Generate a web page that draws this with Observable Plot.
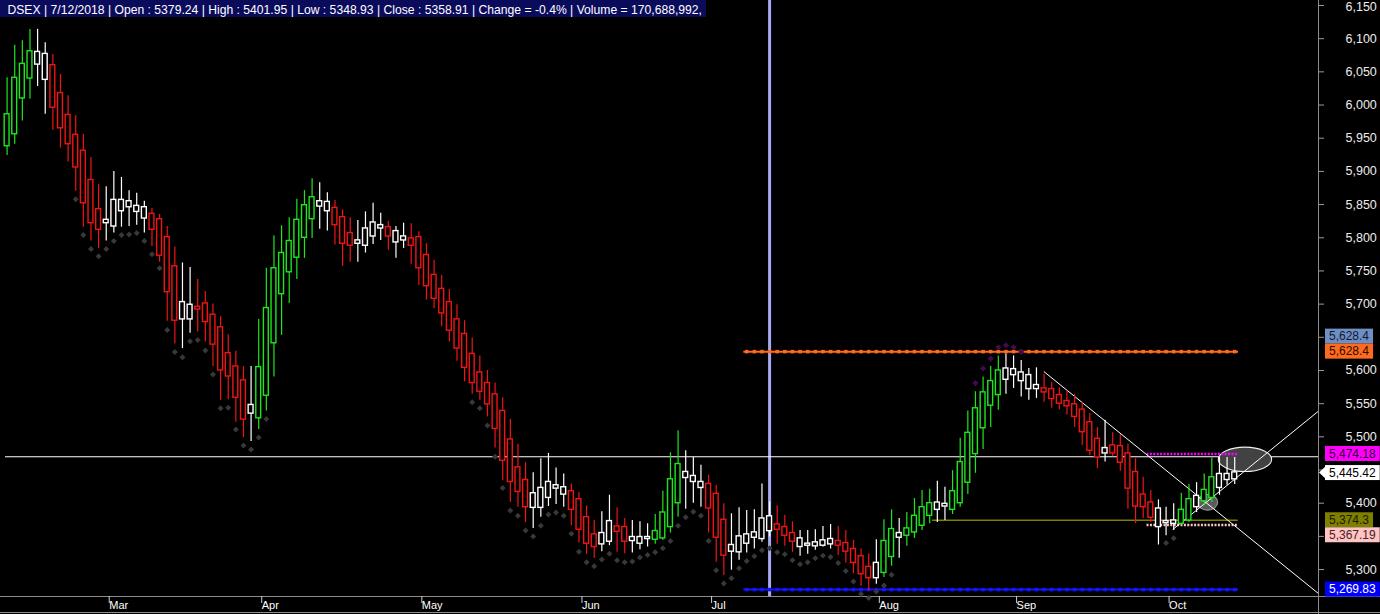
<!DOCTYPE html>
<html><head><meta charset="utf-8">
<script src="https://cdn.jsdelivr.net/npm/d3@7"></script>
<script src="https://cdn.jsdelivr.net/npm/@observablehq/plot@0.6"></script>
<style>
html,body{margin:0;padding:0;background:#000;}
#wrap{position:relative;width:1380px;height:614px;overflow:hidden;background:#000;}
#hdr{position:absolute;left:0;top:0;height:17px;line-height:17px;background:#0b0b5c;color:#fff;overflow:hidden;}
#hdr span{display:inline-block;transform-origin:0 50%;font-family:"Liberation Sans",Arial,sans-serif;font-size:13px;white-space:nowrap;padding-left:8px;}
</style></head><body>
<div id="wrap"><div id="chart"></div><div id="hdr"><span id="hdrText"></span></div></div>
<script>
// ---------- data (DSEX daily) ----------
const highs = [6041,6090,6097,6114,6114,6094,6076,6046,6014,5984,
5956,5921,5880,5877,5900,5891,5871,5867,5855,5844,
5835,5817,5786,5762,5755,5737,5719,5700,5681,5654,
5629,5606,5606,5677,5754,5803,5818,5830,5858,5871,
5889,5883,5868,5856,5842,5830,5826,5839,5852,5837,
5825,5817,5822,5821,5809,5791,5766,5743,5722,5699,
5675,5649,5622,5600,5581,5559,5526,5489,5461,5446,
5467,5475,5453,5444,5429,5416,5396,5374,5387,5412,
5393,5377,5374,5372,5369,5383,5418,5476,5509,5479,
5469,5457,5442,5427,5399,5384,5393,5389,5390,5429,
5401.95,5396,5382,5372,5359,5359,5360,5365,5368,5365,
5359,5344,5331,5324,5345,5375,5390,5377,5386,5407,
5419,5421,5433,5424,5449,5498,5539,5568,5590,5606,
5622,5625,5622,5615,5603,5604,5594,5582,5574,5569,
5564,5552,5535,5514,5525,5506,5503,5489,5467,5439,
5419,5405,5394,5399,5415,5428,5431,5444,5468,5469,
5469,5469];
const lows = [5924,5941,5976,6009,6028,5986,5962,5935,5914,5870,
5816,5795,5784,5795,5807,5816,5817,5819,5807,5787,
5763,5674,5640,5633,5656,5658,5643,5606,5555,5556,
5522,5499,5493,5511,5539,5590,5653,5701,5737,5769,
5799,5813,5810,5789,5757,5763,5763,5777,5790,5796,
5781,5769,5784,5760,5728,5706,5693,5666,5643,5614,
5583,5564,5555,5530,5483,5434,5401,5394,5371,5362,
5379,5395,5398,5394,5366,5340,5323,5317,5327,5336,
5326,5324,5325,5330,5334,5338,5344,5355,5379,5391,
5400,5394,5355,5311,5291,5299,5314,5325,5331,5341,
5348.93,5338,5335,5326,5320,5323,5329,5334,5331,5321,
5310,5294,5275,5268,5278,5288,5305,5317,5335,5347,
5359,5369,5371,5374,5383,5394,5413,5445,5481,5514,
5540,5564,5573,5560,5555,5558,5552,5543,5541,5533,
5514,5487,5472,5452,5462,5470,5448,5391,5369,5377,
5371,5337,5351,5359,5367,5371,5386,5396,5401,5412,
5427,5428];
const opens = [5939,5957,6011,6041,6079,6076,6059,6017,5984,5954,
5930,5886,5842,5826,5856,5856,5854,5847,5845,5835,
5827,5800,5756,5702,5698,5695,5700,5683,5664,5625,
5605,5584,5547,5529,5563,5642,5716,5749,5771,5801,
5829,5854,5853,5844,5830,5806,5795,5813,5822,5818,
5815,5809,5801,5798,5800,5773,5743,5722,5702,5676,
5654,5624,5596,5580,5563,5538,5495,5453,5434,5414,
5422,5431,5426,5423,5417,5405,5378,5352,5354,5372,
5364,5363,5348,5348,5348,5346,5348,5365,5401,5446,
5440,5431,5428,5413,5374,5336,5349,5352,5355,5376,
5379.24,5367,5363,5354,5346,5338,5340,5343,5345,5342,
5339,5330,5319,5303,5309,5296,5320,5354,5352,5357,
5367,5382,5400,5398,5391,5401,5432,5475,5514,5548,
5564,5602,5601,5596,5592,5577,5572,5571,5562,5553,
5548,5540,5521,5496,5482,5486,5485,5474,5446,5412,
5400,5391,5372,5373,5370,5375,5410,5404,5409,5443,
5443,5437];
const closes = [5985,6040,6061,6080,6062,6039,5997,5966,5942,5907,
5853,5823,5813,5823,5818,5841,5847,5840,5830,5813,
5774,5719,5676,5678,5678,5693,5674,5640,5601,5592,
5560,5527,5536,5604,5693,5753,5776,5794,5826,5848,
5860,5848,5841,5820,5792,5789,5792,5789,5803,5815,
5803,5794,5797,5789,5755,5728,5709,5687,5661,5634,
5605,5582,5569,5550,5513,5465,5433,5418,5395,5394,
5394,5409,5423,5414,5391,5361,5340,5335,5339,5343,
5358,5343,5344,5340,5347,5357,5385,5435,5458,5439,
5433,5424,5393,5349,5322,5328,5327,5340,5349,5347,
5358.91,5361,5352,5343,5335,5337,5336,5337,5339,5337,
5328,5311,5294,5288,5288,5342,5360,5349,5361,5380,
5393,5399,5391,5396,5417,5461,5505,5542,5566,5583,
5599,5587,5594,5585,5573,5573,5568,5558,5551,5547,
5531,5508,5480,5470,5476,5476,5462,5423,5396,5395,
5379,5365,5371,5370,5389,5405,5395,5419,5438,5424,
5436,5445.42];
// bar colouring: g = up trend, r = down trend, w = neutral
const tones = ("ggggwwrrrrrrrwwwwwwrrrrwwrrrrrrrwggggggggwwrrrwwwwrwwrrrrrrrrrrrrrrrr" +
  "wwwwwrrrrwwrrwwwggggwwwrrrwwwwwwrrrwwwwwrrrrrwggwggggwwgggggggwwwwwrrrrrrrrwrrrrrrwwwggwggwww").split("");

// trailing-stop diamonds below price
const stopIdx = [9,10,11,12,13,14,15,16,17,18,19,20,21,22,23,24,25,26,27,28,29,30,31,32,33,34,
61,62,63,64,65,66,67,68,69,70,71,72,73,74,75,76,77,78,79,80,81,82,83,84,85,86,87,88,89,90,
91,92,93,94,95,96,97,98,99,100,101,102,103,104,105,106,107,108,109,110,111,112,113,114,115,116,152,153];
const stopVal = [5858,5804,5783,5772,5783,5795,5804,5805,5807,5795,5775,5754,5661,5628,5620,5644,5646,5630,5594,5543,5544,5511,5487,5481,5499,5527,
5552,5543,5517,5470,5423,5389,5381,5359,5350,5366,5383,5386,5381,5354,5327,5311,5305,5315,5324,5314,5311,5312,5318,5322,5326,5332,5343,5366,5379,5387,
5381,5343,5299,5279,5287,5302,5313,5320,5329,5332,5326,5323,5314,5308,5311,5317,5321,5319,5310,5298,5282,5263,5257,5267,5276,5292,5340,5347];
// dots above the September peak
const peakIdx = [127,128,129,130,131,132,133];
const peakVal = [5581,5603,5618,5635,5638,5635,5628];

const monthLabels = ["Mar","Apr","May","Jun","Jul","Aug","Sep","Oct"];
const monthIdx = [13,33,54,75,92,114,132,152];
const yTicks = [5300,5350,5400,5450,5500,5550,5600,5650,5700,5750,5800,5850,5900,5950,6000,6050,6100,6150];

const cursorIdx = 100;
const cursorInfo = {name:"DSEX", date:"7/12/2018", change:"-0.4%", volume:"170,688,992"};

const hLineVal = 5470, hLineFrom = -0.21;
const resistVal = 5628.4, supportVal = 5269.83, levelFrom = 96.62, levelTo = 161.5, levelDotFrom = 97;
const magentaVal = 5474.18, pinkVal = 5367.19, shortFrom = 149.5, shortTo = 161.35;
const oliveVal = 5374.3, oliveFrom = 121.36, oliveTo = 161.46;
const trendFromIdx = [135.96, 152.88], trendFromVal = [5598.5, 5360.4];
const trendToIdx = [172.25, 172.25], trendToVal = [5261.4, 5541.2];
const ellIdx = [162.41, 157.52], ellVal = [5465.4, 5400.6], ellHalfBars = [3.5, 1.31], ellHalfPts = [18.4, 11.8];

const tagValues = [5628.4, 5628.4, 5474.18, 5445.42, 5374.3, 5367.19, 5269.83];
const tagFill = ["#6f8fc4", "#ff6a1e", "#ff00ff", "#ffffff", "#7f7f00", "#ffc4c4", "#0000ff"];
const tagInk = ["#0d1a33", "#2a0c00", "#2e002e", "#000000", "#1a1a00", "#4a2020", "#ffffff"];
const tagOrder = [1, 2, 3, 4, 6, 0, 5];
const tagDodge = ["up", "up", "up", "up", "up", "down", "up"];
const tagPointer = [false, false, false, true, false, false, false];

// ---------- build ----------
const toneColor = {g: "#1ee61e", r: "#f01414", w: "#ffffff"};
const bars = highs.map((h, i) => ({i, high: h, low: lows[i], open: opens[i], close: closes[i], tone: tones[i]}));
const stops = stopIdx.map((d, k) => ({i: d, v: stopVal[k]}));
const peaks = peakIdx.map((d, k) => ({i: d, v: peakVal[k]}));
const trends = trendFromIdx.map((d, k) => ({x1: d, y1: trendFromVal[k], x2: trendToIdx[k], y2: trendToVal[k]}));
const levelBars = bars.filter(d => d.i >= levelDotFrom);
const fmt = d3.format(",");
const monthMap = new Map(monthIdx.map((d, k) => [d, monthLabels[k]]));

const xDomain = [-0.8656, 171.99];
const yDomain = [5259.4, 6157.53];
const NS = "http://www.w3.org/2000/svg";
const el = (tag, attrs) => { const e = document.createElementNS(NS, tag); for (const k in attrs) e.setAttribute(k, attrs[k]); return e; };

function frameMark(index, scales, values, dims) {
  const g = el("g", {});
  const xr = dims.width - dims.marginRight + 0.5, yb = dims.height - dims.marginBottom + 0.5;
  g.append(el("line", {x1: xr, y1: 0, x2: xr, y2: dims.height, stroke: "#8c8c8c"}));
  g.append(el("line", {x1: 0, y1: yb, x2: dims.width, y2: yb, stroke: "#8c8c8c"}));
  g.append(el("line", {x1: 0, y1: dims.height - 1.5, x2: dims.width, y2: dims.height - 1.5, stroke: "#8c8c8c"}));
  return g;
}
function ellipseMark(index, scales) {
  const g = el("g", {});
  ellIdx.forEach((d, k) => {
    const cx = scales.x(d), cy = scales.y(ellVal[k]);
    const rx = Math.abs(scales.x(d + ellHalfBars[k]) - cx), ry = Math.abs(scales.y(ellVal[k] + ellHalfPts[k]) - cy);
    g.append(el("ellipse", {cx, cy, rx, ry, fill: k === 0 ? "#424242" : "#5a5a5a", stroke: k === 0 ? "#f0f0f0" : "#9a9a9a", "stroke-width": 1.1}));
  });
  return g;
}
function tagMark(index, scales, values, dims) {
  const g = el("g", {"text-anchor": "start"});
  const xr = dims.width - dims.marginRight;
  const H = 15, placed = [], pos = [];
  tagOrder.forEach(k => {
    let y = scales.y(tagValues[k]);
    for (let pass = 0; pass < 3; pass++)
      for (const p of placed) if (Math.abs(p - y) < H) y = tagDodge[k] === "up" ? p - H : p + H;
    pos[k] = y; placed.push(y);
  });
  tagValues.forEach((v, k) => {
    const t = el("g", {class: "pricetag"});
    const y = pos[k];
    if (tagPointer[k]) t.append(el("path", {d: `M${xr + 1},${y}L${xr + 9},${y - H / 2}L${xr + 9},${y + H / 2}Z`, fill: tagFill[k]}));
    t.append(el("rect", {x: xr + 7, y: y - H / 2, width: 52, height: H, fill: tagFill[k]}));
    const tx = el("text", {x: xr + 11, y, dy: "0.36em", fill: tagInk[k], "text-anchor": "start", "font-size": 12, "font-family": "'Liberation Sans',Arial,sans-serif"});
    tx.textContent = fmt(v);
    t.append(tx);
    g.append(t);
  });
  return g;
}

const chart = Plot.plot({
  width: 1380, height: 614,
  marginLeft: 0, marginRight: 62, marginTop: 0, marginBottom: 18,
  style: {background: "#000", color: "#fff", fontFamily: "'Liberation Sans',Arial,sans-serif", overflow: "visible"},
  x: {type: "linear", domain: xDomain},
  y: {type: "linear", domain: yDomain},
  color: {type: "identity"},
  marks: [
    frameMark,
    Plot.ruleX([cursorIdx], {stroke: "#a9a9f2", strokeWidth: 3}),
    Plot.ruleY([hLineVal], {x1: hLineFrom, x2: xDomain[1], stroke: "#ffffff", strokeWidth: 1.2}),
    ellipseMark,
    Plot.ruleY([resistVal], {x1: levelFrom, x2: levelTo, stroke: "#ff6a1e", strokeWidth: 2}),
    Plot.dot(levelBars, {x: "i", y: () => resistVal, symbol: "square", r: 2, fill: "#ff6a1e"}),
    Plot.ruleY([supportVal], {x1: levelFrom, x2: levelTo, stroke: "#1414ff", strokeWidth: 2}),
    Plot.dot(levelBars, {x: "i", y: () => supportVal, symbol: "square", r: 2, fill: "#1414ff"}),
    Plot.ruleY([oliveVal], {x1: oliveFrom, x2: oliveTo, stroke: "#7f7f00", strokeWidth: 1.5}),
    Plot.ruleY([magentaVal], {x1: shortFrom, x2: shortTo, stroke: "#ff00ff", strokeWidth: 2.4, strokeDasharray: "2,1.4"}),
    Plot.ruleY([pinkVal], {x1: shortFrom, x2: shortTo, stroke: "#ffc4c4", strokeWidth: 2.4, strokeDasharray: "2,1.4"}),
    Plot.link(trends, {x1: "x1", y1: "y1", x2: "x2", y2: "y2", stroke: "#ffffff", strokeWidth: 1, clip: true}),
    Plot.ruleX(bars, {x: "i", y1: "low", y2: "high", stroke: d => toneColor[d.tone], strokeWidth: 1.2}),
    Plot.rect(bars, {x1: d => d.i - 0.32, x2: d => d.i + 0.32, y1: d => Math.min(d.open, d.close), y2: d => Math.max(d.open, d.close),
      fill: "#000", stroke: d => toneColor[d.tone], strokeWidth: 1.4, insetTop: -0.7, insetBottom: -0.7}),
    Plot.dot(stops, {x: "i", y: "v", symbol: "diamond2", r: 2.7, fill: "#383838"}),
    Plot.dot(peaks, {x: "i", y: "v", symbol: "diamond2", r: 2.8, fill: "#420a50"}),
    Plot.axisY(yTicks, {anchor: "right", tickFormat: fmt, tickSize: 5, tickPadding: 22, fontSize: 12.5, fill: "#ececec", stroke: "#9a9a9a"}),
    Plot.axisX(monthIdx, {anchor: "bottom", tickFormat: d => monthMap.get(d), tickSize: 7, tickPadding: 1.5, textAnchor: "start", lineAnchor: "middle",
      dx: 3, fontSize: 11, fill: "#ffffff", stroke: "#d0d0d0"}),
    tagMark
  ]
});
document.getElementById("chart").append(chart);
const tagBoxes = [];
chart.querySelectorAll(".pricetag").forEach(t => {
  const tx = t.querySelector("text"), r = t.querySelector("rect");
  r.setAttribute("width", tx.getComputedTextLength() + 8);
  tagBoxes.push(r.getBoundingClientRect());
});
// price tags sit on top of the axis labels (as in the original): hide the labels they cover; keep the top label inside the picture
const svgBox = chart.getBoundingClientRect();
chart.querySelectorAll("text").forEach(t => {
  if (t.closest(".pricetag")) return;
  const bb = t.getBoundingClientRect();
  if (bb.left > 1300 && tagBoxes.some(r => bb.top < r.bottom - 2 && bb.bottom > r.top + 2)) t.remove();
  else if (bb.top - svgBox.top < 0.5) {
    const prev = t.getAttribute("transform") || "";
    t.setAttribute("transform", `${prev} translate(0,${(0.5 - (bb.top - svgBox.top)).toFixed(1)})`.trim());
  }
});
const b = bars[cursorIdx];
const hdrText = document.getElementById("hdrText");
hdrText.textContent =
  `${cursorInfo.name} | ${cursorInfo.date} | Open : ${b.open} | High : ${b.high} | Low : ${b.low} | Close : ${b.close} | Change = ${cursorInfo.change} | Volume = ${cursorInfo.volume},`;
// fit the header to the narrow font width of the original (text ends near x = 702)
const natural = hdrText.getBoundingClientRect().width;
const sx = 702 / natural;
hdrText.style.transform = `scaleX(${sx})`;
document.getElementById("hdr").style.width = (natural * sx + 4) + "px";
</script></body></html>
